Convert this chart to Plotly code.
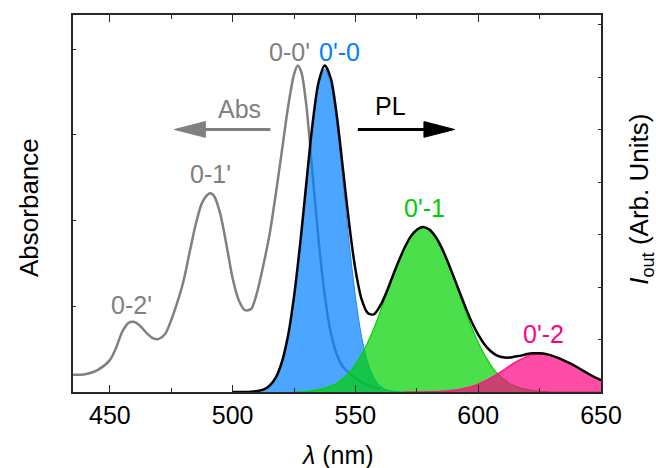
import plotly.graph_objects as go

# ---------------- data ----------------
abs_wl = [435, 440, 445, 450, 452.5, 455, 457.5, 460, 462.5, 465, 467.5, 470, 472.5, 475, 477.5,
          480, 482.5, 485, 487.5, 490, 491, 492.5, 495, 497.5, 500, 502.5, 505, 507.5, 510, 512.5,
          515, 517.5, 520, 522.5, 525, 526.5, 528, 530, 532.5, 535, 537.5, 540, 542.5, 545, 550,
          555, 560]
absorbance = [0.050, 0.052, 0.064, 0.093, 0.128, 0.175, 0.201, 0.204, 0.192, 0.172, 0.157, 0.155,
              0.169, 0.210, 0.262, 0.324, 0.408, 0.490, 0.551, 0.577, 0.580, 0.571, 0.519, 0.429,
              0.332, 0.268, 0.239, 0.242, 0.292, 0.370, 0.458, 0.574, 0.700, 0.828, 0.927, 0.953,
              0.933, 0.837, 0.641, 0.443, 0.283, 0.172, 0.108, 0.073, 0.041, 0.020, 0.009]

blue_wl = [505, 507.5, 510, 512.5, 515, 517.5, 520, 522.5, 525, 527.5, 530, 532.5, 535, 537.5,
           540, 542.5, 545, 547.5, 550, 552.5, 555, 557.5, 560, 562.5, 565, 567.5, 570]
pl_00 = [0.000, 0.001, 0.003, 0.007, 0.019, 0.043, 0.090, 0.169, 0.291, 0.451, 0.634, 0.811,
         0.938, 0.985, 0.938, 0.811, 0.634, 0.451, 0.291, 0.169, 0.090, 0.043, 0.019, 0.007,
         0.003, 0.001, 0.000]

green_wl = [525, 527.5, 530, 532.5, 535, 537.5, 540, 542.5, 545, 547.5, 550, 552.5, 555, 557.5,
            560, 562.5, 565, 567.5, 570, 572.5, 575, 577.5, 580, 582.5, 585, 587.5, 590, 592.5,
            595, 597.5, 600, 602.5, 605, 607.5, 610, 612.5, 615, 617.5, 620, 622.5, 625, 627.5,
            630, 632.5, 635, 637.5, 640, 642.5, 645, 647.5, 650]
pl_01 = [0.000, 0.001, 0.002, 0.004, 0.007, 0.011, 0.018, 0.027, 0.041, 0.059, 0.083, 0.114,
         0.151, 0.194, 0.243, 0.295, 0.347, 0.396, 0.440, 0.474, 0.495, 0.503, 0.495, 0.474,
         0.440, 0.396, 0.347, 0.295, 0.243, 0.194, 0.151, 0.114, 0.083, 0.059, 0.041, 0.027,
         0.018, 0.011, 0.007, 0.004, 0.002, 0.001, 0.000, 0.000, 0.000, 0.000, 0.000, 0.000,
         0.000, 0.000, 0.000]

pink_wl = [570, 572.5, 575, 577.5, 580, 582.5, 585, 587.5, 590, 592.5, 595, 597.5, 600, 602.5,
           605, 607.5, 610, 612.5, 615, 617.5, 620, 622.5, 625, 627.5, 630, 632.5, 635, 637.5,
           640, 642.5, 645, 647.5, 650]
pl_02 = [0.000, 0.000, 0.000, 0.000, 0.001, 0.001, 0.002, 0.003, 0.005, 0.008, 0.012, 0.017,
         0.024, 0.032, 0.042, 0.053, 0.065, 0.078, 0.090, 0.100, 0.109, 0.114, 0.116, 0.115,
         0.111, 0.104, 0.096, 0.087, 0.077, 0.066, 0.055, 0.045, 0.036]

total_wl = [500, 502.5, 505, 507.5, 510, 512.5, 515, 517.5, 520, 522.5, 525, 527.5, 530, 532.5,
            535, 537.5, 540, 542.5, 545, 547.5, 550, 552.5, 555, 557.5, 560, 562.5, 565, 567.5,
            570, 572.5, 575, 577.5, 580, 582.5, 585, 587.5, 590, 592.5, 595, 597.5, 600, 602.5,
            605, 607.5, 610, 612.5, 615, 617.5, 620, 622.5, 625, 627.5, 630, 632.5, 635, 637.5,
            640, 642.5, 645, 647.5, 650]
pl_total = [0.000, 0.000, 0.000, 0.001, 0.003, 0.007, 0.019, 0.043, 0.090, 0.169, 0.291, 0.452,
            0.636, 0.815, 0.945, 0.996, 0.956, 0.838, 0.675, 0.510, 0.374, 0.283, 0.241, 0.237,
            0.262, 0.302, 0.350, 0.397, 0.440, 0.474, 0.495, 0.503, 0.496, 0.475, 0.442, 0.399,
            0.352, 0.303, 0.255, 0.211, 0.175, 0.146, 0.125, 0.112, 0.106, 0.105, 0.108, 0.111,
            0.116, 0.118, 0.118, 0.116, 0.111, 0.104, 0.096, 0.087, 0.077, 0.066, 0.055, 0.045,
            0.036]

x_ticks = [450, 500, 550, 600, 650]

FONT = "Liberation Sans, Arial, sans-serif"
GRAY = "rgb(128,128,128)"
FS = 25

fig = go.Figure()

fig.add_trace(go.Scatter(x=abs_wl, y=absorbance, mode="lines",
                         line=dict(color=GRAY, width=2.5, shape="spline", smoothing=0.8),
                         yaxis="y", showlegend=False, hoverinfo="skip"))

fig.add_trace(go.Scatter(x=blue_wl, y=pl_00, mode="lines", fill="tozeroy",
                         fillcolor="rgba(0,128,255,0.7)",
                         line=dict(color="rgb(30,130,255)", width=1, shape="spline", smoothing=0.8),
                         yaxis="y2", showlegend=False, hoverinfo="skip"))
fig.add_trace(go.Scatter(x=green_wl, y=pl_01, mode="lines", fill="tozeroy",
                         fillcolor="rgba(0,210,0,0.7)",
                         line=dict(color="rgb(0,210,0)", width=1.2, shape="spline", smoothing=0.8),
                         yaxis="y2", showlegend=False, hoverinfo="skip"))
fig.add_trace(go.Scatter(x=pink_wl, y=pl_02, mode="lines", fill="tozeroy",
                         fillcolor="rgba(255,0,128,0.7)",
                         line=dict(color="rgb(255,20,140)", width=1.5, shape="spline", smoothing=0.8),
                         yaxis="y2", showlegend=False, hoverinfo="skip"))
fig.add_trace(go.Scatter(x=total_wl, y=pl_total, mode="lines",
                         line=dict(color="black", width=2.5, shape="spline", smoothing=0.8),
                         yaxis="y2", showlegend=False, hoverinfo="skip"))

AX = "rgb(40,40,40)"
fig.update_layout(
    width=656, height=468,
    margin=dict(l=73, r=55, t=15, b=76),
    paper_bgcolor="white", plot_bgcolor="white",
    font=dict(family=FONT, size=FS, color="black"),
    xaxis=dict(range=[435, 650], tickvals=x_ticks, ticks="inside", ticklen=7, tickwidth=1.3,
               tickcolor=AX, showline=True, linecolor=AX, linewidth=1.5, mirror="ticks",
               showgrid=False, zeroline=False, tickfont=dict(size=FS),
               minor=dict(dtick=25, tick0=425, ticks="inside", ticklen=4, tickcolor=AX, tickwidth=1)),
    yaxis=dict(range=[0, 1.1], dtick=0.25, ticks="inside", ticklen=3, tickcolor=AX,
               showticklabels=False, showline=True, linecolor=AX, linewidth=1.5,
               showgrid=False, zeroline=False),
    yaxis2=dict(range=[0, 1.15], dtick=0.16, ticks="inside", ticklen=3, tickcolor=AX,
                showticklabels=False, showline=True, linecolor=AX, linewidth=1.5,
                overlaying="y", side="right", showgrid=False, zeroline=False),
)

# axis titles as annotations
annotations = [
    dict(text="<i>λ</i> (nm)", x=0.5, y=-0.168, xref="paper", yref="paper",
         xanchor="center", yanchor="middle", showarrow=False, font=dict(size=FS)),
    dict(text="Absorbance", x=-0.082, y=0.49, xref="paper", yref="paper", textangle=-90,
         xanchor="center", yanchor="middle", showarrow=False, font=dict(size=26)),
    dict(text="<i>I</i><sub>out</sub> (Arb. Units)", x=1.076, y=0.51, xref="paper", yref="paper",
         textangle=-90, xanchor="center", yanchor="middle", showarrow=False, font=dict(size=26)),
]

labels = [
    ("0-0'", 523.2, 0.992, GRAY),
    ("0'-0", 543.6, 0.992, "rgb(0,128,255)"),
    ("Abs", 502.9, 0.827, GRAY),
    ("PL", 564.4, 0.834, "black"),
    ("0-1'", 490.8, 0.636, GRAY),
    ("0-2'", 458.8, 0.253, GRAY),
    ("0'-1", 578.0, 0.536, "rgb(0,204,0)"),
    ("0'-2", 626.6, 0.170, "rgb(255,0,128)"),
]
for t, x, y, c in labels:
    annotations.append(dict(text=t, x=x, y=y, xref="x", yref="y", showarrow=False,
                            xanchor="center", yanchor="middle", font=dict(size=FS, color=c)))
fig.update_layout(annotations=annotations)

# arrows
shapes = [
    dict(type="line", x0=515.4, x1=488.0, y0=0.766, y1=0.766, xref="x", yref="y",
         line=dict(color=GRAY, width=3)),
    dict(type="path", path="M 476.3 0.766 L 488.9 0.789 L 488.9 0.743 Z", xref="x", yref="y",
         fillcolor=GRAY, line=dict(color=GRAY, width=1)),
    dict(type="line", x0=551.0, x1=579.0, y0=0.766, y1=0.766, xref="x", yref="y",
         line=dict(color="black", width=3)),
    dict(type="path", path="M 590.4 0.766 L 577.9 0.789 L 577.9 0.743 Z", xref="x", yref="y",
         fillcolor="black", line=dict(color="black", width=1)),
]
fig.update_layout(shapes=shapes)

fig.write_html("out.html", config={"displayModeBar": False},
               post_script="document.body.style.margin='0px';")
